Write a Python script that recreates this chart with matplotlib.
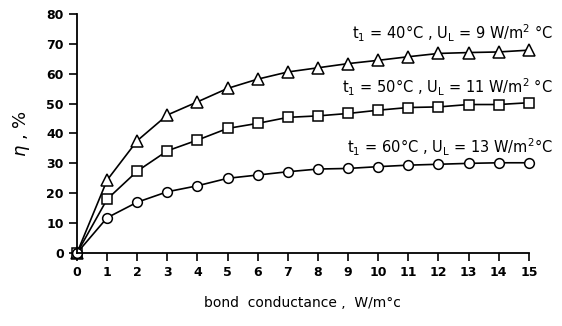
import matplotlib.pyplot as plt

plt.rcParams['font.family'] = 'DejaVu Sans'
plt.rcParams['mathtext.default'] = 'regular'

# bond conductance, W/m°C
x = [0, 1, 2, 3, 4, 5, 6, 7, 8, 9, 10, 11, 12, 13, 14, 15]

# efficiency, %
eta_40 = [0, 24.4, 37.6, 46.2, 50.6, 55.1, 58.2, 60.6, 62.0, 63.4, 64.5, 65.7, 66.8, 67.1, 67.3, 67.9]
eta_50 = [0, 18.0, 27.4, 34.2, 37.8, 41.7, 43.4, 45.4, 45.9, 46.7, 47.8, 48.7, 48.9, 49.7, 49.7, 50.3]
eta_60 = [0, 11.8, 17.0, 20.5, 22.5, 25.0, 26.1, 27.2, 28.1, 28.3, 28.9, 29.4, 29.7, 30.0, 30.2, 30.2]

labels = [r'$t_1$ = 40°C , $U_L$ = 9 W/m$^2$ °C',
          r'$t_1$ = 50°C , $U_L$ = 11 W/m$^2$ °C',
          r'$t_1$ = 60°C , $U_L$ = 13 W/m$^2$°C']

fig = plt.figure(figsize=(5.62, 3.26), dpi=100)
ax = fig.add_axes([0.137, 0.224, 0.804, 0.733])

ax.plot(x, eta_40, color='black', lw=1.2, marker='^', ms=8, mfc='white', mec='black', mew=1.1)
ax.plot(x, eta_50, color='black', lw=1.2, marker='s', ms=7, mfc='white', mec='black', mew=1.1)
ax.plot(x, eta_60, color='black', lw=1.2, marker='o', ms=7, mfc='white', mec='black', mew=1.1)

# curve labels
ax.text(15.8, 73.5, labels[0], ha='right', va='center', fontsize=10.5)
ax.text(15.8, 55.5, labels[1], ha='right', va='center', fontsize=10.5)
ax.text(15.8, 35.5, labels[2], ha='right', va='center', fontsize=10.5)

ax.set_xlim(0, 15)
ax.set_ylim(0, 80)
ax.set_xticks(range(0, 16))
ax.set_yticks(range(0, 81, 10))
ax.spines['top'].set_visible(False)
ax.spines['right'].set_visible(False)
ax.spines['left'].set_linewidth(1.3)
ax.spines['bottom'].set_linewidth(1.3)
ax.tick_params(direction='out', length=6, width=1.2, labelsize=9)
for lab in ax.get_xticklabels() + ax.get_yticklabels():
    lab.set_fontweight('bold')

ax.set_xlabel('bond  conductance ,  W/m°c', fontsize=10, labelpad=12)
ax.set_ylabel(r'$\it{\eta}$ , %', fontsize=13, labelpad=10)

for line in ax.get_lines():
    line.set_clip_on(False)

fig.savefig('out.png', dpi=100)
